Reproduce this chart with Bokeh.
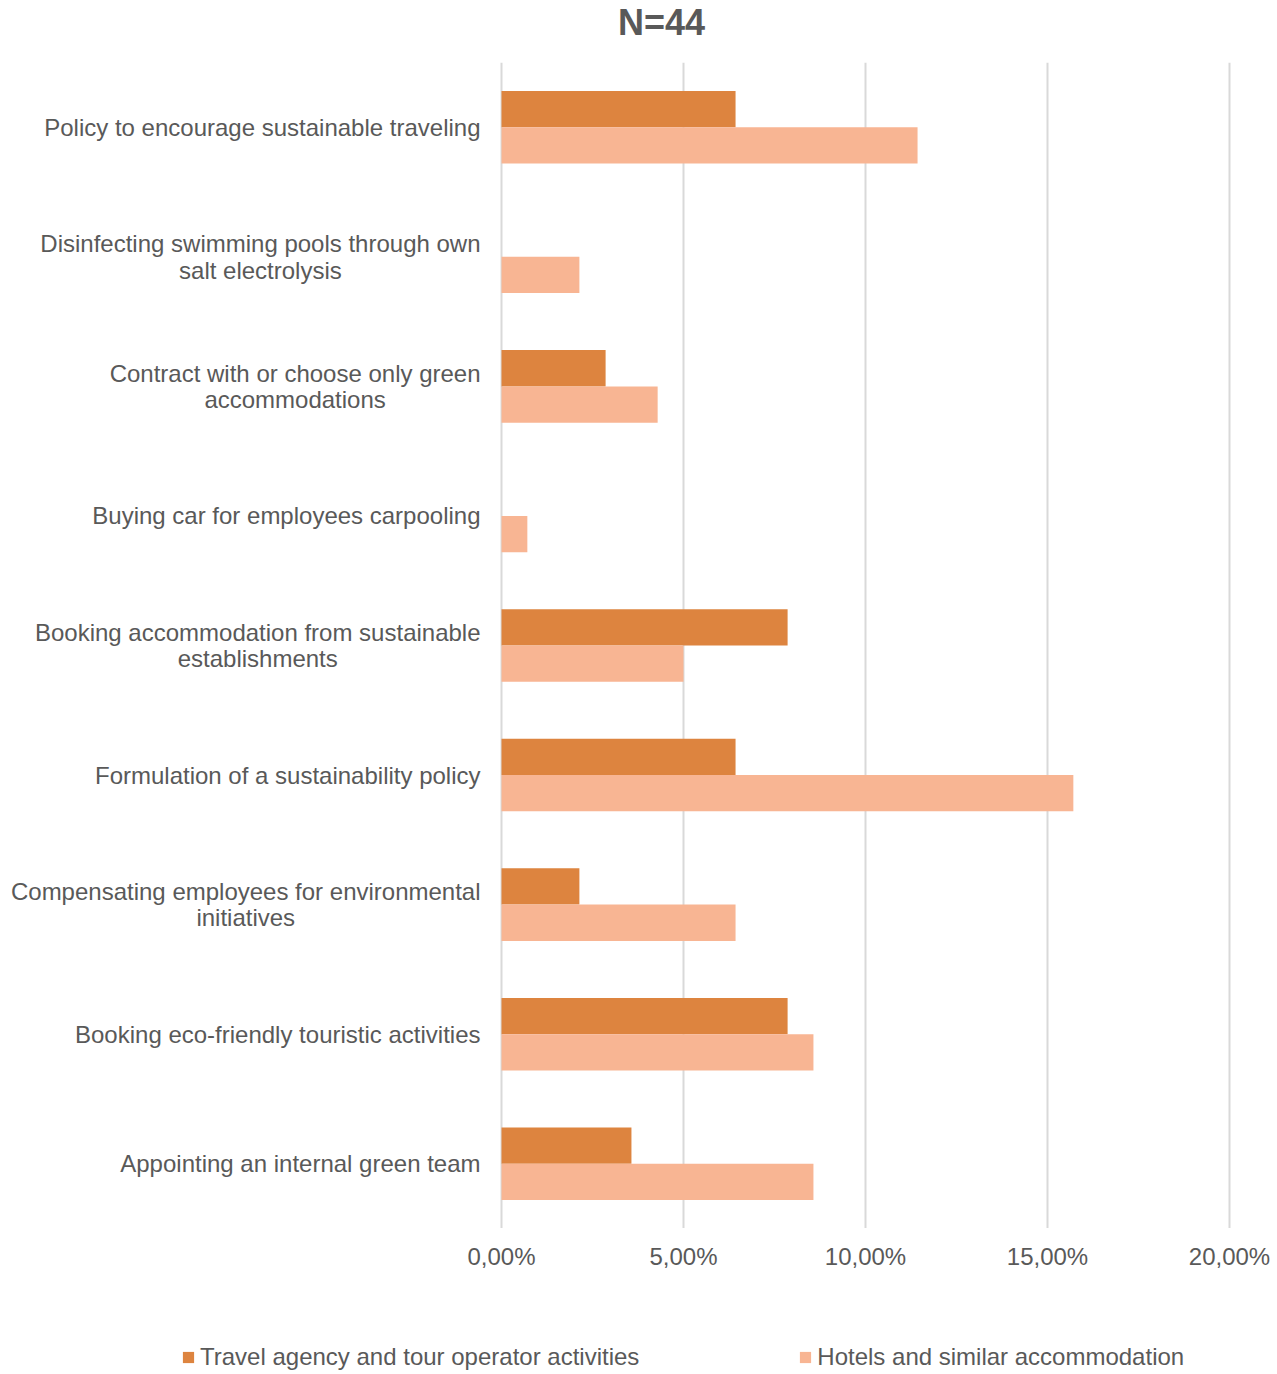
from bokeh.plotting import figure
from bokeh.layouts import column
from bokeh.models import (FactorRange, FixedTicker, Legend, LegendItem, ColumnDataSource,
                          Range1d, Grid, LinearAxis)
from bokeh.core.properties import value
from bokeh.transform import dodge
from bokeh.embed import file_html
from bokeh.resources import INLINE

title_text = "N=44"
categories = [
    "Policy to encourage sustainable traveling",
    "Disinfecting swimming pools through own\nsalt electrolysis",
    "Contract with or choose only green\naccommodations",
    "Buying car for employees carpooling",
    "Booking accommodation from sustainable\nestablishments",
    "Formulation of a sustainability policy",
    "Compensating employees for environmental\ninitiatives",
    "Booking eco-friendly touristic activities",
    "Appointing an internal green team",
]
travel = [0.0643, 0.0, 0.0286, 0.0, 0.0786, 0.0643, 0.0214, 0.0786, 0.0357]
hotels = [0.1143, 0.0214, 0.0429, 0.0071, 0.0500, 0.1571, 0.0643, 0.0857, 0.0857]
series_names = ["Travel agency and tour operator activities", "Hotels and similar accommodation"]
tick_values = [0.0, 0.05, 0.10, 0.15, 0.20]
tick_labels = ["0,00%", "5,00%", "10,00%", "15,00%", "20,00%"]

DARK = "#DD843F"
LIGHT = "#F8B593"
GRID = "#D9D9D9"
TXT = "#595959"
FONT = "Liberation Sans"
FS = 24
STANDOFF = 21

W = 1277
PLOT_LEFT, PLOT_RIGHT = 501, 1229   # pixel positions of 0 % and 20 %
TITLE_H = 62
TITLE_Y = 21.5                      # vertical anchor of the title inside its strip
TITLE_CENTER_OFFSET = 160           # title centre, px right of the 0 % line
CHART_H = 1228 - TITLE_H
BOT_H = 1374 - 1228

# Arial / Liberation Sans advance widths (per 1000 em), used to centre wrapped labels
_W = {" ": 278, "a": 556, "b": 556, "c": 500, "d": 556, "e": 556, "f": 278, "g": 556, "h": 556,
      "i": 222, "j": 222, "k": 500, "l": 222, "m": 833, "n": 556, "o": 556, "p": 556, "q": 556,
      "r": 333, "s": 500, "t": 278, "u": 556, "v": 500, "w": 722, "x": 500, "y": 500, "z": 500,
      "-": 333, "A": 667, "B": 667, "C": 722, "D": 722, "F": 611, "P": 667, "T": 611}


def text_width(s):
    return sum(_W.get(ch, 556) for ch in s) * FS / 1000.0


label_align, label_xoff = [], []
for c in categories:
    lines = c.split("\n")
    if len(lines) == 1:
        label_align.append("right")
        label_xoff.append(-STANDOFF)
    else:
        wmax = max(text_width(l) for l in lines)
        label_align.append("center")
        label_xoff.append(-STANDOFF - wmax / 2.0)

src = ColumnDataSource(dict(cat=categories, travel=travel, hotels=hotels,
                            zero=[0.0] * len(categories), align=label_align, xoff=label_xoff))

xmax = tick_values[-1]
ppu = (PLOT_RIGHT - PLOT_LEFT) / xmax
x_range = Range1d(-PLOT_LEFT / ppu, xmax + (W - PLOT_RIGHT) / ppu)


def bare(fig):
    fig.outline_line_color = None
    fig.background_fill_color = "white"
    fig.border_fill_color = "white"
    for g in fig.grid:
        g.visible = False


# ---------------- title strip ----------------
t = figure(width=W, height=TITLE_H, output_backend="svg", toolbar_location=None,
           x_range=x_range, y_range=Range1d(TITLE_H, 0),
           x_axis_location=None, y_axis_location=None,
           min_border_left=0, min_border_right=0, min_border_top=0, min_border_bottom=0)
bare(t)
t.text(x=[0.0], y=[TITLE_Y], text=[title_text], x_offset=TITLE_CENTER_OFFSET,
       text_align="center", text_baseline="alphabetic",
       text_font=value(FONT), text_font_size=value("36px"), text_font_style="bold",
       text_color=TXT)

# ---------------- main chart ----------------
p = figure(width=W, height=CHART_H, output_backend="svg", toolbar_location=None,
           x_range=x_range, y_range=FactorRange(*reversed(categories), range_padding=0),
           x_axis_location=None, y_axis_location=None,
           min_border_left=0, min_border_right=0, min_border_top=0, min_border_bottom=0)
bare(p)

grid = Grid(dimension=0, ticker=FixedTicker(ticks=tick_values),
            grid_line_color=GRID, grid_line_width=2)
p.add_layout(grid)

r1 = p.hbar(y=dodge("cat", 0.14, range=p.y_range), right="travel", left=0, height=0.28,
            color=DARK, line_color=None, source=src)
r2 = p.hbar(y=dodge("cat", -0.14, range=p.y_range), right="hotels", left=0, height=0.28,
            color=LIGHT, line_color=None, source=src)

p.text(x="zero", y="cat", text="cat", source=src, x_offset="xoff",
       text_align="align", text_baseline="middle", text_line_height=0.98,
       text_font=value(FONT), text_font_size=value(f"{FS}px"), text_color=TXT)

# ---------------- axis + legend strip ----------------
q = figure(width=W, height=BOT_H, output_backend="svg", toolbar_location=None,
           x_range=x_range, y_range=Range1d(0, 1),
           x_axis_location=None, y_axis_location=None,
           min_border_left=0, min_border_right=0, min_border_top=51, min_border_bottom=0)
bare(q)

xa = LinearAxis(ticker=FixedTicker(ticks=tick_values),
                major_label_overrides={v: l for v, l in zip(tick_values, tick_labels)})
xa.axis_line_color = None
xa.major_tick_line_color = None
xa.minor_tick_line_color = None
xa.major_label_text_font = FONT
xa.major_label_text_font_size = f"{FS}px"
xa.major_label_text_color = TXT
xa.major_label_standoff = 4
q.add_layout(xa, "above")

# legend proxies: same series, zero height so they leave no mark in the strip
l1 = q.hbar(y="zero", right="travel", left=0, height=0, color=DARK, line_color=None, source=src)
l2 = q.hbar(y="zero", right="hotels", left=0, height=0, color=LIGHT, line_color=None, source=src)

legend = Legend(items=[LegendItem(label=series_names[0], renderers=[l1]),
                       LegendItem(label=series_names[1], renderers=[l2])],
                orientation="horizontal", location=(181, 3),
                label_text_font=FONT, label_text_font_size=f"{FS}px", label_text_color=TXT,
                glyph_width=14, glyph_height=14, label_standoff=5, spacing=159,
                padding=0, margin=0, border_line_color=None, background_fill_alpha=0)
q.add_layout(legend, "center")

layout = column(t, p, q, spacing=0)
open("out.html", "w").write(file_html(layout, INLINE))
